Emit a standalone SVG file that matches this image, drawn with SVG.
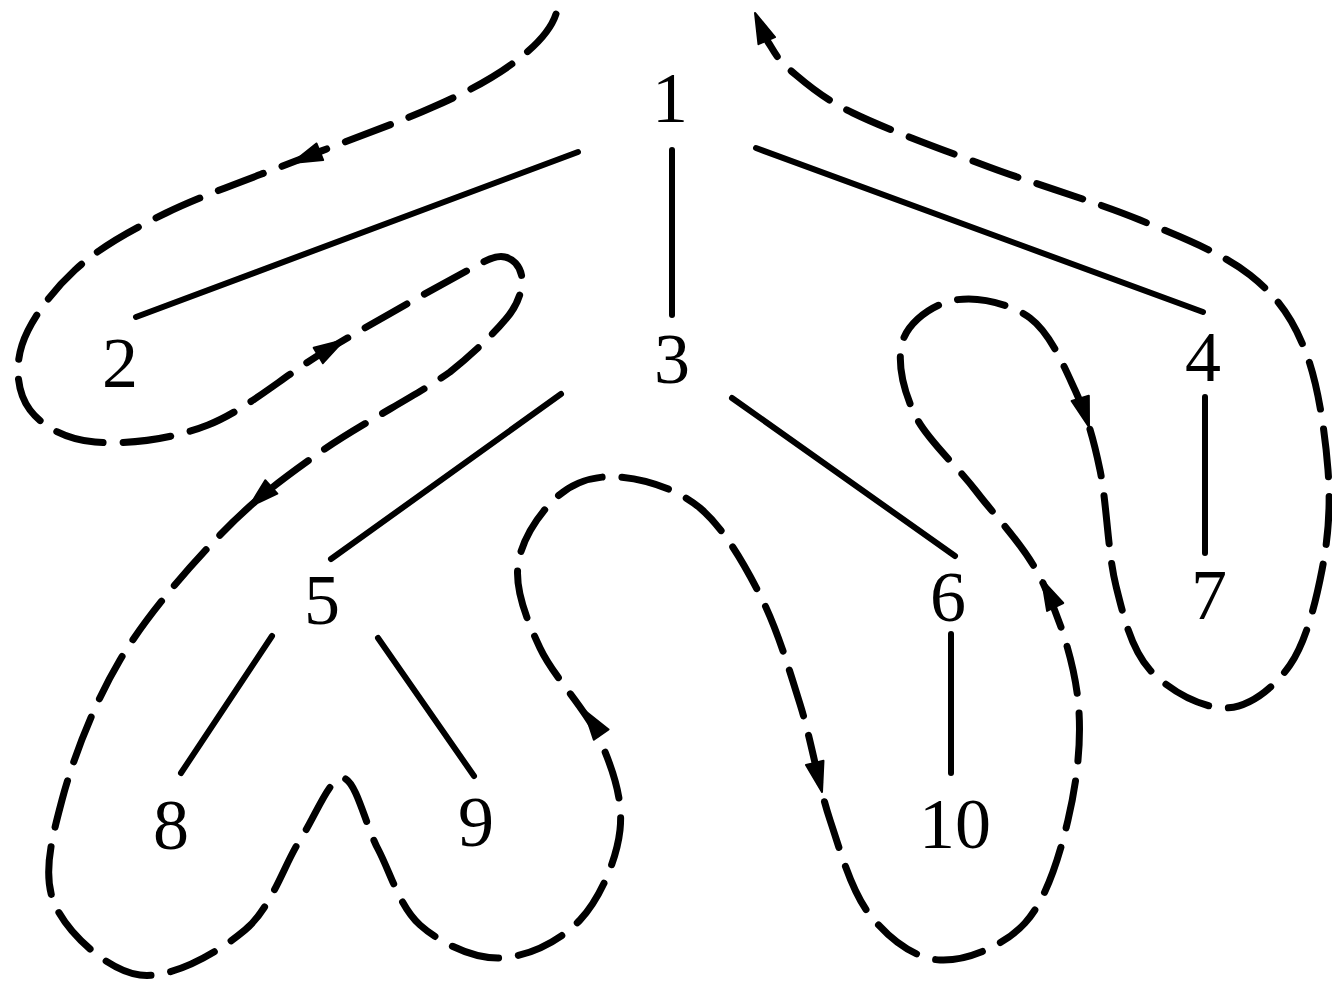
<svg xmlns="http://www.w3.org/2000/svg" xmlns:xlink="http://www.w3.org/1999/xlink" width="1332" height="982" viewBox="0 0 1332 982">
<style>
.edge{stroke:#000;stroke-width:6;stroke-linecap:round;fill:none}
.trav{stroke:#000;stroke-width:7;fill:none;stroke-dasharray:48 20;stroke-linecap:round;stroke-linejoin:round}
.lbl{font-family:"Liberation Serif","Times New Roman",serif;font-size:72px;fill:#000;text-anchor:middle}
.ah{fill:#000;stroke:#000;stroke-width:2;stroke-linejoin:round}
</style>
<defs>
<path id="ah" d="M0,0 L-30,-9 L-30,9 Z"/>
</defs>
<rect x="0" y="0" width="1332" height="982" fill="#fff"/>
<g id="connectors">
<line class="edge" x1="578" y1="152" x2="136" y2="317"/>
<line class="edge" x1="672" y1="150" x2="672" y2="315"/>
<line class="edge" x1="756" y1="148" x2="1203" y2="312"/>
<line class="edge" x1="561" y1="394" x2="331" y2="559"/>
<line class="edge" x1="732" y1="398" x2="955" y2="556"/>
<line class="edge" x1="1205" y1="397" x2="1205" y2="553"/>
<line class="edge" x1="272" y1="636" x2="181" y2="773"/>
<line class="edge" x1="378" y1="638" x2="474" y2="776"/>
<line class="edge" x1="951" y1="634" x2="951" y2="773"/>
<path id="traversal" class="trav" d="M556,14 C547,42 505,76 433,107 C397,123.2 350.5,139.3 306,157 C261.5,174.7 204.5,194.2 166,213 C127.5,231.8 99,248 75,270 C51,292 29.5,321.7 22,345 C14.5,368.3 17.8,393.8 30,410 C42.2,426.2 65.3,439.5 95,442 C124.7,444.5 169.3,440.3 208,425 C246.7,409.7 282.3,376.7 327,350 C371.7,323.5 446.3,281.5 476,266 C488,259 497,255 505,257 C515,259 523,270 522,283 C521,297 514,310 505,320 C495,332 475,352 450,372 C419,394.2 357.3,425.8 319,453 C280.7,480.2 253.2,500.5 220,535 C186.8,569.5 146.3,615.8 120,660 C93.7,704.2 72.8,759.2 62,800 C51.2,840.8 42,875.8 55,905 C68,934.2 108.3,970.8 140,975 C171.7,979.2 218.3,952.5 245,930 C271.7,907.5 283.7,865.3 300,840 C316.3,814.7 330,776.5 343,778 C356,779.5 365.2,824.5 378,849 C390.8,873.5 399.7,906.8 420,925 C440.3,943.2 473.3,958.8 500,958 C526.7,957.2 560,941.3 580,920 C600,898.7 616.7,860 620,830 C623.3,800 613.3,770.3 600,740 C586.7,709.7 553.7,677.2 540,648 C526.3,618.8 515,590.3 518,565 C521,539.7 541,510.7 558,496 C575,481.3 596.3,475 620,477 C643.7,479 676.7,488.3 700,508 C723.3,527.7 743.3,562.3 760,595 C776.7,627.7 788.3,666.5 800,704 C811.7,741.5 818.3,784.8 830,820 C841.7,855.2 851.7,891.7 870,915 C888.3,938.3 914.2,958.7 940,960 C965.8,961.3 1003.7,946.3 1025,923 C1046.3,899.7 1059.2,857.2 1068,820 C1076.8,782.8 1082.3,739.8 1078,700 C1073.7,660.2 1059,615.8 1042,581 C1025,546.2 997.2,518.7 976,491 C954.8,463.3 927.2,440.2 915,415 C902.8,389.8 896.3,359.2 903,340 C909.7,320.8 933.8,303.7 955,300 C976.2,296.3 1010,303 1030,318 C1050,333 1063.3,364.7 1075,390 C1086.7,415.3 1093.2,437.3 1100,470 C1106.8,502.7 1107.7,552.7 1116,586 C1124.3,619.3 1131.7,649.7 1150,670 C1168.3,690.3 1202.7,708.8 1226,708 C1249.3,707.2 1274,688 1290,665 C1306,642 1315.7,602.5 1322,570 C1328.3,537.5 1330.8,506.7 1328,470 C1325.2,433.3 1318,382.5 1305,350 C1292,317.5 1277.5,296.7 1250,275 C1222.5,253.3 1183.5,238 1140,220 C1096.5,202 1036.8,184.8 989,167 C941.2,149.2 886.2,129.2 853,113 C819.8,96.8 804.2,81.8 790,70 C775.8,58.2 771.7,46.7 768,42"/>
<use xlink:href="#ah" href="#ah" class="ah" transform="translate(292,163) rotate(158)"/>
<use xlink:href="#ah" href="#ah" class="ah" transform="translate(344,340) rotate(-31)"/>
<use xlink:href="#ah" href="#ah" class="ah" transform="translate(249,507) rotate(138)"/>
<use xlink:href="#ah" href="#ah" class="ah" transform="translate(584,710) rotate(-125)"/>
<use xlink:href="#ah" href="#ah" class="ah" transform="translate(822,792) rotate(76)"/>
<use xlink:href="#ah" href="#ah" class="ah" transform="translate(1042,580) rotate(-116)"/>
<use xlink:href="#ah" href="#ah" class="ah" transform="translate(1089,427) rotate(73)"/>
<use xlink:href="#ah" href="#ah" class="ah" transform="translate(755,13) rotate(-113)"/>
</g>
<g id="node1"><text class="lbl" x="670" y="122">1</text></g>
<g id="node2"><text class="lbl" x="120" y="387">2</text></g>
<g id="node3"><text class="lbl" x="672" y="383">3</text></g>
<g id="node4"><text class="lbl" x="1203" y="381">4</text></g>
<g id="node5"><text class="lbl" x="322" y="624">5</text></g>
<g id="node6"><text class="lbl" x="948" y="621">6</text></g>
<g id="node7"><text class="lbl" x="1209" y="619">7</text></g>
<g id="node8"><text class="lbl" x="171" y="849">8</text></g>
<g id="node9"><text class="lbl" x="476" y="846">9</text></g>
<g id="node10"><text class="lbl" x="955" y="848">10</text></g>
</svg>
